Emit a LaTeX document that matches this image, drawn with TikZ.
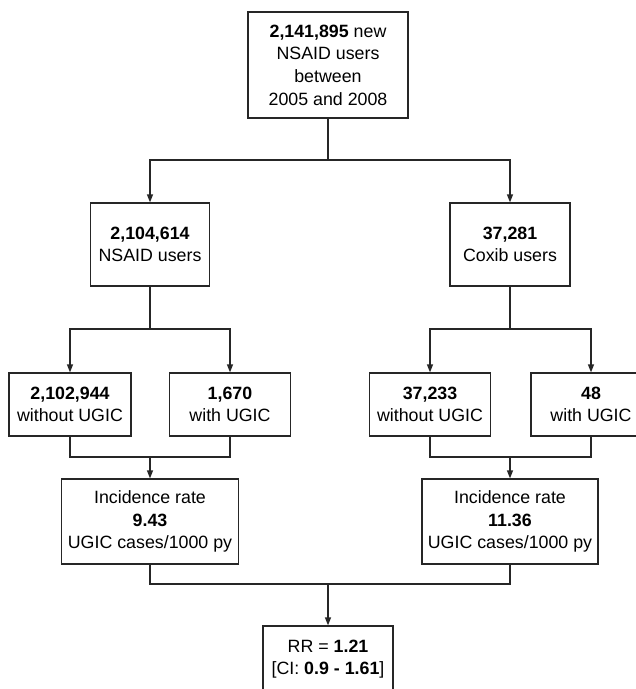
\documentclass[tikz,border=0pt]{standalone}
\usepackage{fontspec}
\setmainfont{Liberation Sans}
\usetikzlibrary{arrows.meta, positioning}
\tikzset{
    %Define standard arrow tip
    >={Triangle[length=8pt,width=6pt]},
    %Define style for boxes
    cohort/.style={
           rectangle,
           draw=black!85, line width=1.3pt,
           inner sep=0pt,
           align=center,
           font=\fontsize{17.8}{22.6}\selectfont},
    % Define arrow style
    branch/.style={
           ->,
           draw=black!85,
           line width=1.3pt},
    % Define style for joining lines
    joint/.style={
           draw=black!85,
           line width=1.3pt}
}

\begin{document}
\begin{tikzpicture}[x=1pt, y=-1pt]
	\useasboundingbox (0,0) rectangle (636,689);
	\clip (0,0) rectangle (636,689);
	%
	% boxes
	%
	\node[cohort, minimum width=160pt, minimum height=106pt] (newusers) at (328,65)
		{\textbf{2,141,895} new\\NSAID users\\between\\2005 and 2008};
	\node[cohort, minimum width=119pt, minimum height=83pt] (nsaid) at (150,244.5)
		{\textbf{2,104,614}\\NSAID users};
	\node[cohort, minimum width=120pt, minimum height=83pt] (coxib) at (510,244.5)
		{\textbf{37,281}\\Coxib users};
	\node[cohort, minimum width=122pt, minimum height=63pt] (nsaidno) at (70,404.5)
		{\textbf{2,102,944}\\without UGIC};
	\node[cohort, minimum width=121pt, minimum height=63pt] (nsaidyes) at (230,404.5)
		{\textbf{1,670}\\with UGIC};
	\node[cohort, minimum width=121pt, minimum height=63pt] (coxibno) at (430,404.5)
		{\textbf{37,233}\\without UGIC};
	\node[cohort, minimum width=120pt, minimum height=63pt] (coxibyes) at (591,404.5)
		{\textbf{48}\\with UGIC};
	\node[cohort, minimum width=177pt, minimum height=85pt] (nsaidrate) at (150,521.5)
		{Incidence rate\\\textbf{9.43}\\UGIC cases/1000 py};
	\node[cohort, minimum width=176pt, minimum height=85pt] (coxibrate) at (510,521.5)
		{Incidence rate\\\textbf{11.36}\\UGIC cases/1000 py};
	\node[cohort, minimum width=130pt, minimum height=66pt] (ratio) at (328,659)
		{RR = \textbf{1.21}\\{[}CI: \textbf{0.9 - 1.61}]};
	%
	% branch points
	%
	\coordinate (split) at (328,160);
	\coordinate (nsaidsplit) at (150,329);
	\coordinate (coxibsplit) at (510,329);
	\coordinate (nsaidjoin) at (150,457);
	\coordinate (coxibjoin) at (510,457);
	\coordinate (ratejoin) at (328,584);
	%
	% links
	%
	\draw[branch] (newusers) -- (split) -| (nsaid);
	\draw[branch] (newusers) -- (split) -| (coxib);
	\draw[branch] (nsaid) -- (nsaidsplit) -| (nsaidno);
	\draw[branch] (nsaid) -- (nsaidsplit) -| (nsaidyes);
	\draw[branch] (coxib) -- (coxibsplit) -| (coxibno);
	\draw[branch] (coxib) -- (coxibsplit) -| (coxibyes);
	\draw[joint] (nsaidno) |- (nsaidjoin) -| (nsaidyes);
	\draw[joint] (coxibno) |- (coxibjoin) -| (coxibyes);
	\draw[branch] (nsaidjoin) -- (nsaidrate);
	\draw[branch] (coxibjoin) -- (coxibrate);
	\draw[joint] (nsaidrate) |- (ratejoin) -| (coxibrate);
	\draw[branch] (ratejoin) -- (ratio);
\end{tikzpicture}
\end{document}
